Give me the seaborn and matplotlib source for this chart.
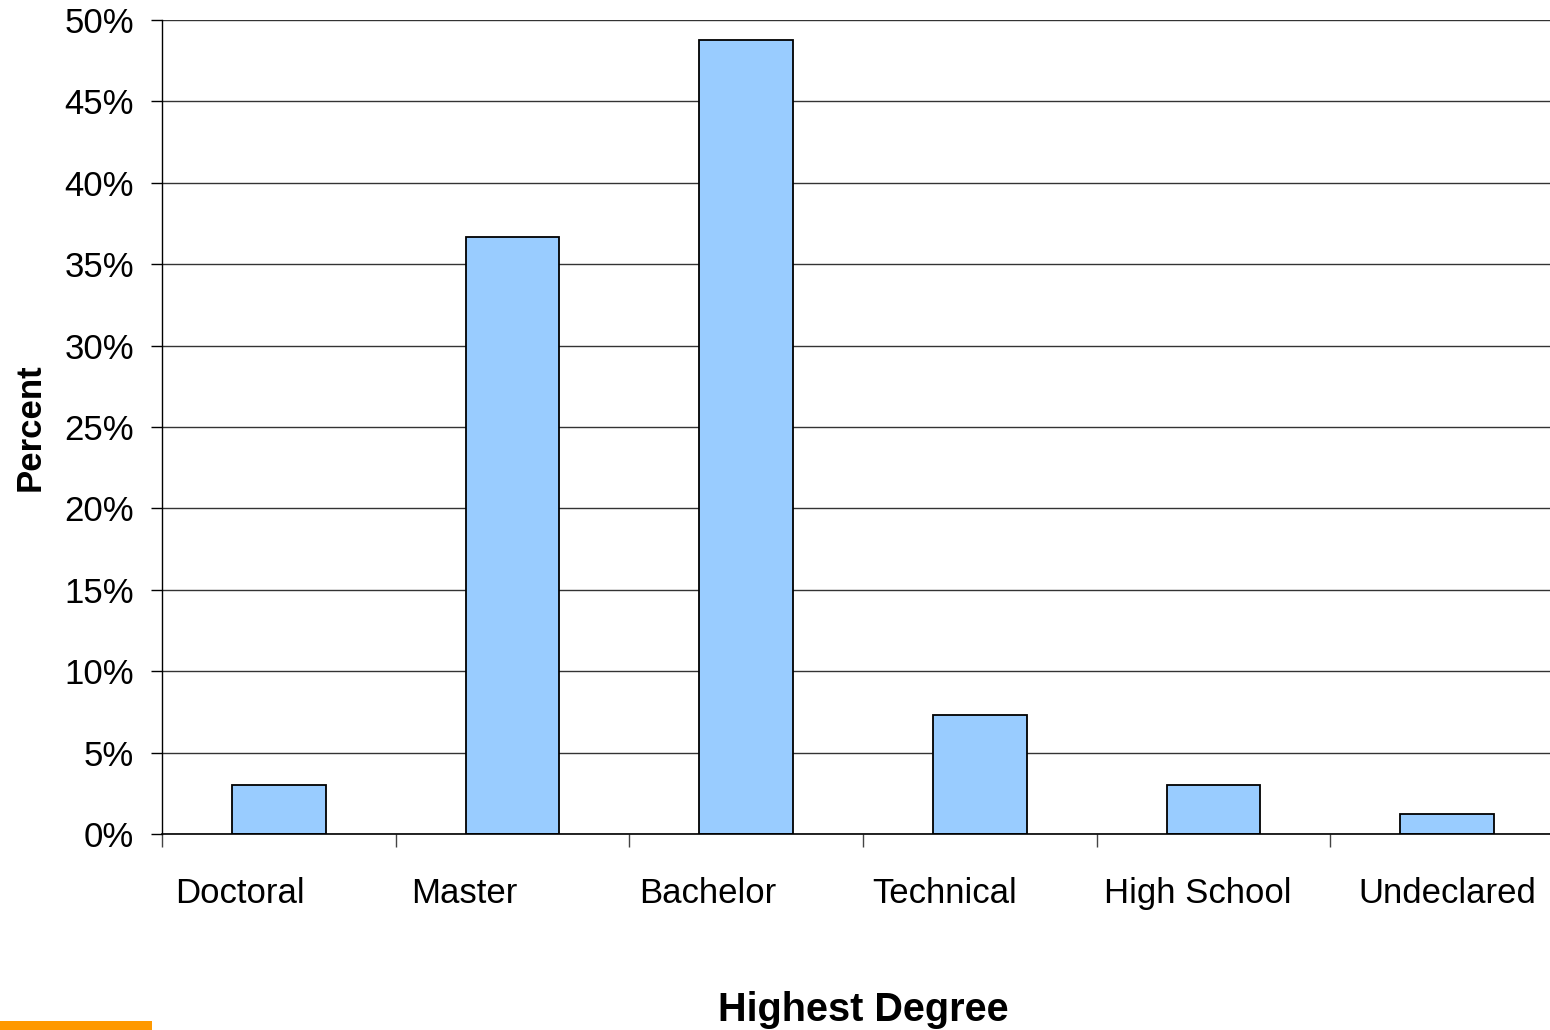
"""
Highest degree distribution - bar chart
"""
import matplotlib
matplotlib.use("Agg")
import matplotlib.pyplot as plt
import matplotlib.transforms as mtransforms
from matplotlib.patches import Rectangle
from matplotlib.ticker import FixedLocator, FuncFormatter
import pandas as pd
import seaborn as sns

degrees = ['Doctoral', 'Master', 'Bachelor', 'Technical', 'High School', 'Undeclared']
percent = [3.0, 36.7, 48.8, 7.3, 3.0, 1.2]
y_ticks = [0, 5, 10, 15, 20, 25, 30, 35, 40, 45, 50]

# horizontal nudge of each category label (points), as in the original layout
label_shift = [-28, -35, -28, -25, -11, 0]

sns.set_theme(style='white')
plt.rcParams['font.family'] = ['Liberation Sans', 'DejaVu Sans']

df = pd.DataFrame({'degree': degrees, 'percent': percent})

fig = plt.figure(figsize=(15.5, 10.3), dpi=100)
ax = fig.add_axes([162 / 1550, 1 - 834 / 1030, (1564 - 162) / 1550, (834 - 20) / 1030])

sns.barplot(data=df, x='degree', y='percent', color='#99CCFF', saturation=1,
            width=0.4, edgecolor='black', linewidth=1.3, ax=ax)

ax.set_xlim(-0.5, len(degrees) - 0.5)
ax.set_ylim(0, 50)
ax.set_yticks(y_ticks)
ax.yaxis.set_major_formatter(FuncFormatter(lambda v, _: f'{v:.0f}%'))
ax.grid(axis='y', color='#333333', linewidth=1.0)
ax.set_axisbelow(True)

for side in ['top', 'right']:
    ax.spines[side].set_visible(False)
ax.spines['left'].set_color('black')
ax.spines['bottom'].set_color('black')
ax.spines['left'].set_linewidth(1.0)
ax.spines['bottom'].set_linewidth(1.2)

# category boundaries as tick marks, labels at centres without marks
ax.xaxis.set_minor_locator(FixedLocator([i - 0.5 for i in range(len(degrees) + 1)]))
ax.tick_params(axis='x', which='minor', bottom=True, length=9, width=1, color='#444444')
ax.tick_params(axis='x', which='major', bottom=True, length=0, pad=31, labelsize=25, labelcolor='black')
ax.tick_params(axis='y', which='major', left=True, length=8, width=1, color='black',
               pad=12, labelsize=25, labelcolor='black')

for lbl, dx in zip(ax.get_xticklabels(), label_shift):
    lbl.set_transform(lbl.get_transform() + mtransforms.ScaledTranslation(dx / 72, 0, fig.dpi_scale_trans))

ax.set_xlabel('Highest Degree', fontsize=28.5, fontweight='bold', labelpad=58, color='black')
ax.set_ylabel('Percent', fontsize=25, fontweight='bold', color='black')
ax.yaxis.set_label_coords((47 - 162) / 1402, 0.5)

# small orange strip at the bottom-left corner
fig.patches.append(Rectangle((0, 0), 152 / 1550, 9 / 1030, transform=fig.transFigure,
                             facecolor='#FF9900', edgecolor='none'))

fig.savefig('out.png', dpi=100)
